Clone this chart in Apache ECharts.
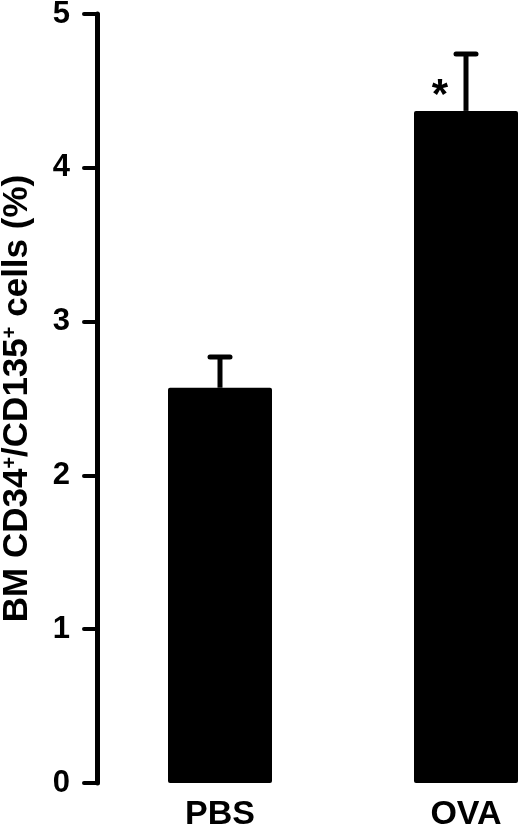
<!DOCTYPE html>
<html>
<head>
<meta charset="utf-8">
<script src="https://cdn.jsdelivr.net/npm/echarts@6/dist/echarts.min.js"></script>
<style>
html,body{margin:0;padding:0;background:#fff;}
#chart{width:520px;height:829px;}
</style>
</head>
<body>
<div id="chart"></div>
<script>
const categories = ['PBS', 'OVA'];
const means = [2.57, 4.37];
const errors = [0.20, 0.37];
const marks = ['', '*'];
const yMin = 0, yMax = 5, yStep = 1;
const yTitle = 'BM CD34{s|+}/CD135{s|+} cells (%)';

const FONT = '"Liberation Sans", Arial, sans-serif';
const chart = echarts.init(document.getElementById('chart'), null, {renderer: 'canvas'});

const errData = categories.map((c, i) => [i, means[i], means[i] + errors[i], marks[i]]);

chart.setOption({
  animation: false,
  backgroundColor: '#fff',
  grid: {left: 97, top: 14, bottom: 46, right: -69, containLabel: false, outerBoundsMode: 'none'},
  xAxis: {
    type: 'category',
    data: categories,
    axisLine: {show: false},
    axisTick: {show: false},
    axisLabel: {color: '#000', fontFamily: FONT, fontWeight: 'bold', fontSize: 34, margin: 15}
  },
  yAxis: {
    type: 'value',
    min: yMin, max: yMax, interval: yStep,
    name: yTitle,
    nameLocation: 'middle',
    nameRotate: 90,
    nameGap: 62,
    nameTextStyle: {
      color: '#000', fontFamily: FONT, fontWeight: 'bold', fontSize: 35,
      rich: {s: {fontFamily: FONT, fontWeight: 'bold', fontSize: 20, color: '#000', verticalAlign: 'top', padding: [0, 0, 13, 0]}}
    },
    axisLine: {show: true, lineStyle: {color: '#000', width: 5}},
    axisTick: {show: true, inside: false, length: 13, lineStyle: {color: '#000', width: 4, cap: 'round'}},
    axisLabel: {color: '#000', fontFamily: FONT, fontWeight: 'bold', fontSize: 31, margin: 27},
    splitLine: {show: false}
  },
  series: [
    {
      type: 'bar',
      data: means,
      barWidth: 104,
      itemStyle: {color: '#000', borderRadius: 2}
    },
    {
      type: 'custom',
      data: errData,
      z: 3,
      renderItem: function (params, api) {
        const x = api.value(0);
        const lo = api.coord([x, api.value(1)]);
        const hi = api.coord([x, api.value(2)]);
        const mk = api.value(3);
        const children = [
          {type: 'line', shape: {x1: lo[0], y1: lo[1], x2: hi[0], y2: hi[1]},
           style: {stroke: '#000', lineWidth: 5}},
          {type: 'line', shape: {x1: hi[0] - 10, y1: hi[1], x2: hi[0] + 10, y2: hi[1]},
           style: {stroke: '#000', lineWidth: 5, lineCap: 'round'}}
        ];
        if (mk) {
          children.push({type: 'text', x: lo[0] - 26, y: (lo[1] + hi[1]) / 2 + 14,
            style: {text: mk, fill: '#000', font: 'bold 42px ' + FONT, textAlign: 'center', textVerticalAlign: 'middle'}});
        }
        return {type: 'group', children: children};
      }
    }
  ]
});
</script>
</body>
</html>
